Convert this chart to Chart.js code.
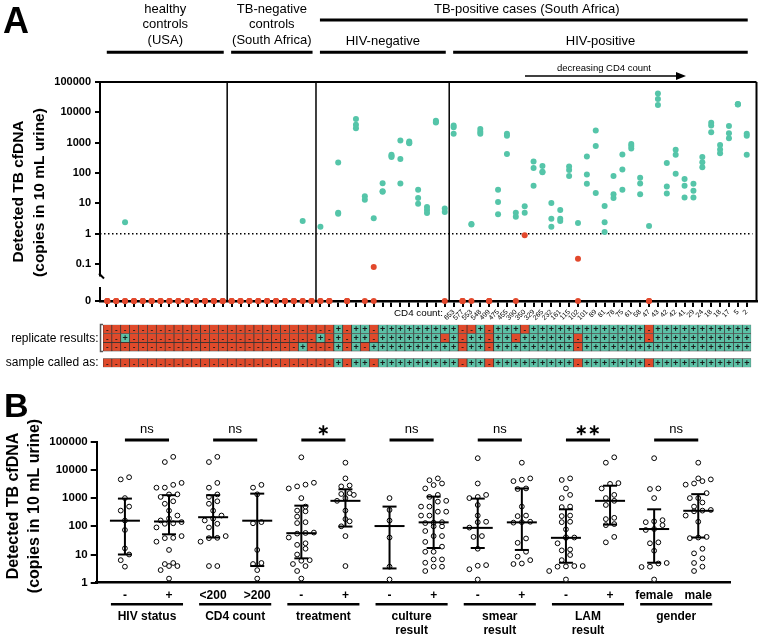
<!DOCTYPE html>
<html>
<head>
<meta charset="utf-8">
<script src="https://cdn.jsdelivr.net/npm/chart.js@4.4.1/dist/chart.umd.min.js"></script>
<style>
  body { margin: 0; background: #fff; width: 760px; height: 635px; position: relative; overflow: hidden; }
  canvas { position: absolute; left: 0; }
</style>
</head>
<body>
<canvas id="chartA" width="760" height="330" style="top:0"></canvas>
<canvas id="chartGrid" width="760" height="48" style="top:322px"></canvas>
<canvas id="chartB" width="760" height="265" style="top:370px"></canvas>
<script>
// ---------- panel A data (3 replicates per sample, 0 = not detected) ----------
const healthyReps = [[0,0,0],[0,0,0],[0,2.4,0],[0,0,0],[0,0,0],[0,0,0],[0,0,0],
  [0,0,0],[0,0,0],[0,0,0],[0,0,0],[0,0,0],[0,0,0],[0,0,0]];
const tbNegReps = [[0,0,0],[0,0,0],[0,0,0],[0,0,0],[0,0,0],[0,0,0],[0,0,0],
  [0,0,0],[0,0,2.6],[0,0,0]];
const hivNegReps = [[0,1.7,0],[0,0,0],[220,4.9,4.5],[0,0,0],[6000,3900,3000],
  [17,13,0],[0.08,0,3.2],[46,25,24],[400,360,340],[1170,290,45],[1100,1000,960],
  [28,15,9.6],[7.6,6,4.8],[5300,4900,4600],[6.7,0,5.2]];
const hivPosReps = [[3700,3200,1950],[0,0,0],[0,2.1,2.0],[2800,2300,1950],[0,0,0],
  [28,11,4.4],[1950,1700,420],[4.9,0,3.6],[0.89,8,4.9],[240,145,38],[170,110,105],
  [10.3,3.1,1.7],[6,3.1,2.6],[165,125,80],[2.25,0.15,0],[350,89,44],[2500,780,22],
  [8.2,2.4,1.14],[80,20,15],[405,130,28],[910,770,640],[70,45,20],[0,0,1.8],
  [42000,27500,17300],[215,36,21],[580,400,95],[64,38,15.5],[44,26,15.5],
  [340,228,155],[4500,3650,2220],[830,600,450],[3560,2060,1410],[19000,18500,18000],
  [1950,1700,400]];
const cd4Counts = [653,577,553,548,499,475,455,390,350,329,265,232,161,115,102,101,
  89,81,78,75,61,58,47,43,42,42,41,29,24,18,18,17,5,2];
const yTicksA = [0, 0.1, 1, 10, 100, 1000, 10000, 100000];
const groupTitlesA = [['healthy','controls','(USA)'], ['TB-negative','controls','(South Africa)'],
  ['HIV-negative'], ['HIV-positive']];

// ---------- panel B data (detected copies per positive sample) ----------
const bTickLabels = ['-','+','<200','>200','-','+','-','+','-','+','-','+','female','male'];
const bGroupNames = ['HIV status','CD4 count','treatment','culture\nresult','smear\nresult','LAM\nresult','gender'];
const bStars = ['ns','ns','*','ns','ns','**','ns'];
const hivNeg = [5500,4600,1000,500,360,160,74,16.5,10,6.3,3.7];
const hivPos = [2950,1.4,2350,14.5,1360,2.8,4.6,141,128,5.0,3.9,123,161,1100,3.9,38,188,
  773,45,29000,91,358,39,28.5,241,3460,630,2340,19000,1350];
const cd4Low = [3.9,123,161,1100,3.9,38,188,773,45,29000,91,358,39,28.5,241,3460,630,2340,19000,1350];
const cd4High = [2950,1.4,2350,14.5,1360,2.8,4.6,141,128,5.0];
const treatNeg = [28000,3500,3000,2600,2200,1000,500,360,340,220,140,130,60,58,55,40,25,22,16,10,6.3,6.0,4.6,3.9,2.6,1.4];
const treatPos = [18000,5000,2800,2600,1500,1400,1300,1000,800,360,180,150,100,45,3.9];
const cultureNeg = [1000,380,160,40,3.7,1.3];
const culturePos = [5000,4300,3300,2900,2200,1300,1100,800,750,500,500,330,330,240,240,140,135,130,
  100,100,68,45,45,28,19,12.5,12.5,6.7,6.7,5.1,3.7,3.7,2.6];
const smearNeg = [26000,3300,1300,1100,1000,570,240,145,140,90,45,42,16,4.2,4.0,3.0,1.3];
const smearPos = [18000,5000,4500,4000,2200,2100,500,240,230,145,140,135,37,26,12.5,8.4,6.3,4.8,4.6];
const lamNeg = [5000,4400,2200,1300,1000,500,480,240,230,145,140,78,41,40,39,25,15,14,9.6,6.3,3.9,3.9,3.8,3.7,2.6,1.3];
const lamPos = [28000,18000,3400,3200,2200,1300,1000,800,570,200,180,120,110,42,27];
const female = [26000,2200,2100,1000,165,150,140,110,80,74,27,25,13.6,5,4.8,3.7,3.6,1.3];
const male = [18000,5000,4600,4000,3300,3000,1500,1000,1000,700,500,380,360,340,240,145,42,40,38,16,11,7.3,5,3.7,2.6];
const bMedian = [158,148,210,158,57,800,102,138,88,138,39,800,80,355];
const bQ1 = [10,52,40,3.9,7.3,98,3.2,17,17,14.5,5.1,115,5.1,40];
const bQ3 = [960,1270,1270,1440,540,2050,500,1130,960,2200,400,2750,400,1380];
const bGroups = [hivNeg,hivPos,cd4Low,cd4High,treatNeg,treatPos,cultureNeg,culturePos,
  smearNeg,smearPos,lamNeg,lamPos,female,male];

// ---------- shared ----------
Chart.defaults.font.family = "'Liberation Sans', Arial, sans-serif";
Chart.defaults.color = '#000';
const TEAL = '#55c5a9', RED = '#e2482c';
const GRID_TEAL = '#5cc1a6', GRID_RED = '#df4a2b';
const ZERO_POS = -2.22;
const tr = v => v > 0 ? Math.log10(v) : ZERO_POS;

const allReps = [...healthyReps, ...tbNegReps, ...hivNegReps, ...hivPosReps];
const groupSizes = [healthyReps.length, tbNegReps.length, hivNegReps.length, hivPosReps.length];
const groupStarts = groupSizes.map((n, i) => groupSizes.slice(0, i).reduce((a, b) => a + b, 0));
const firstPos = groupStarts[3];
const scatterData = allReps.flatMap((reps, k) => reps.map(v => ({ x: k, y: tr(v), v: v })));

function seg(ctx, x1, y1, x2, y2) {
  ctx.beginPath(); ctx.moveTo(x1, y1); ctx.lineTo(x2, y2); ctx.stroke();
}
function font(size, bold) {
  return (bold ? 'bold ' : '') + size + "px 'Liberation Sans', Arial, sans-serif";
}
function vText(ctx, str, x, y, size) {
  ctx.save(); ctx.translate(x, y); ctx.rotate(-Math.PI / 2);
  ctx.font = font(size, true); ctx.textAlign = 'center'; ctx.textBaseline = 'middle';
  ctx.fillText(str, 0, 0); ctx.restore();
}

// ---------- panel A ----------
const panelA = {
  id: 'panelA',
  beforeDatasetsDraw(chart) {
    const { ctx, chartArea: a, scales: { x, y } } = chart;
    ctx.save();
    ctx.strokeStyle = '#000';
    // dotted line at 1 copy
    ctx.lineWidth = 1.5; ctx.setLineDash([1.5, 2.5]);
    seg(ctx, a.left, y.getPixelForValue(0), a.right - 4, y.getPixelForValue(0));
    ctx.setLineDash([]);
    // group dividers
    groupStarts.slice(1).forEach(s => {
      const px = x.getPixelForValue(s - 0.5);
      seg(ctx, px, a.top, px, a.bottom);
    });
    // frame
    ctx.lineWidth = 2;
    seg(ctx, a.left - 1, a.top, a.right, a.top);
    seg(ctx, a.right, a.top, a.right, a.bottom);
    // broken y axis
    const yb1 = y.getPixelForValue(-1) + 12.5, yb2 = y.getPixelForValue(ZERO_POS) - 14;
    seg(ctx, a.left, a.top - 1, a.left, yb1);
    seg(ctx, a.left - 1, yb1 - 3, a.left + 4, yb1 + 2);
    seg(ctx, a.left, yb2, a.left, a.bottom + 1);
    ctx.restore();
  },
  afterDraw(chart) {
    const { ctx, scales: { x } } = chart;
    ctx.save();
    ctx.fillStyle = '#000'; ctx.strokeStyle = '#000';
    ctx.font = font(36, true); ctx.textAlign = 'left'; ctx.textBaseline = 'alphabetic';
    ctx.fillText('A', 3, 33);
    ctx.textAlign = 'center'; ctx.textBaseline = 'middle';
    ctx.font = font(13, false);
    groupTitlesA.forEach((lines, g) => {
      const f = groupStarts[g], l = f + groupSizes[g] - 1;
      const x1 = x.getPixelForValue(f) - 0.5, x2 = x.getPixelForValue(l) + 1;
      ctx.lineWidth = 3; seg(ctx, x1, 52.3, x2, 52.3);
      const ys = lines.length === 3 ? [9.3, 24.5, 40.7] : [41.7];
      lines.forEach((t, i) => ctx.fillText(t, (x1 + x2) / 2, ys[i]));
    });
    // TB-positive cases bracket
    const t1 = x.getPixelForValue(groupStarts[2]) - 0.5, t2 = x.getPixelForValue(allReps.length - 1) + 1;
    ctx.lineWidth = 3; seg(ctx, t1, 20, t2, 20);
    ctx.fillText('TB-positive cases (South Africa)', (t1 + t2) / 2 - 7, 9.5);
    // decreasing CD4 arrow
    ctx.font = font(9.5, false);
    ctx.fillText('decreasing CD4 count', 604, 68);
    ctx.lineWidth = 1.5; seg(ctx, 525, 76, 678, 76);
    ctx.beginPath(); ctx.moveTo(686, 76); ctx.lineTo(676, 72); ctx.lineTo(676, 80); ctx.closePath(); ctx.fill();
    // CD4 count label
    ctx.font = font(9.8, false); ctx.textAlign = 'right';
    ctx.fillText('CD4 count:', 443, 313);
    // y title
    vText(ctx, 'Detected TB cfDNA', 18.5, 191.5, 15.5);
    vText(ctx, '(copies in 10 mL urine)', 39.5, 192.5, 15.5);
    ctx.restore();
  }
};

new Chart(document.getElementById('chartA'), {
  type: 'scatter',
  data: {
    datasets: [{
      data: scatterData,
      pointRadius: 3, pointHoverRadius: 3, borderWidth: 0,
      backgroundColor: c => (c.raw && c.raw.v >= 1) ? TEAL : RED,
      clip: false
    }]
  },
  options: {
    responsive: false, animation: false,
    layout: { padding: { top: 82, right: 3.5, left: 0, bottom: 0 } },
    plugins: { legend: { display: false }, tooltip: { enabled: false } },
    scales: {
      x: {
        type: 'linear', min: -0.82, max: 73.1,
        afterBuildTicks: s => { s.ticks = allReps.map((r, k) => ({ value: k })); },
        afterFit: s => { s.height = 29; },
        grid: { drawOnChartArea: false, drawTicks: true, tickLength: 6, color: '#000', lineWidth: 2 },
        border: { display: true, color: '#000', width: 2.5 },
        ticks: {
          autoSkip: false, minRotation: 45, maxRotation: 45, padding: 1,
          font: { size: 7 },
          callback: (v, i) => i >= firstPos ? String(cd4Counts[i - firstPos]) : ''
        }
      },
      y: {
        type: 'linear', min: ZERO_POS, max: 5,
        afterBuildTicks: s => { s.ticks = yTicksA.map(v => ({ value: tr(v) })); },
        afterFit: s => { s.width = 100; },
        grid: { drawOnChartArea: false, tickLength: 5, color: '#000', lineWidth: 2 },
        border: { display: false },
        ticks: { padding: 4, font: { size: 11, weight: 'bold' }, callback: (v, i) => String(yTicksA[i]) }
      }
    }
  },
  plugins: [panelA]
});

// ---------- replicate grid ----------
const rowBands = [[3.83, 4.83], [2.83, 3.83], [1.83, 2.83]];
const gridSets = rowBands.map((band, r) => ({
  data: allReps.map((reps, k) => ({ x: k, y: band, pos: reps[r] >= 1 }))
}));
gridSets.push({
  data: allReps.map((reps, k) => ({ x: k, y: [0, 1], pos: reps.filter(v => v >= 1).length >= 2 }))
});

const gridText = {
  id: 'gridText',
  afterDatasetsDraw(chart) {
    const { ctx } = chart;
    ctx.save();
    ctx.fillStyle = '#1a1a1a'; ctx.textAlign = 'center'; ctx.textBaseline = 'middle';
    chart.data.datasets.forEach((ds, di) => {
      chart.getDatasetMeta(di).data.forEach((el, i) => {
        const plus = ds.data[i].pos;
        ctx.font = font(plus ? 9 : 8, true);
        ctx.fillText(plus ? '+' : '-', el.x, (el.y + el.base) / 2 + 0.5);
      });
    });
    ctx.fillStyle = '#000'; ctx.textAlign = 'right'; ctx.font = font(12, false);
    ctx.fillText('replicate results:', 98.5, 16.5);
    ctx.fillText('sample called as:', 98.5, 40.5);
    ctx.strokeStyle = '#555'; ctx.lineWidth = 1.5;
    ctx.beginPath(); ctx.moveTo(103, 2.5); ctx.lineTo(100.5, 2.5); ctx.lineTo(100.5, 29.5); ctx.lineTo(103, 29.5); ctx.stroke();
    ctx.restore();
  }
};

new Chart(document.getElementById('chartGrid'), {
  type: 'bar',
  data: {
    datasets: gridSets.map(s => ({
      data: s.data, grouped: false,
      barPercentage: 1, categoryPercentage: 1,
      backgroundColor: c => (c.raw && c.raw.pos) ? GRID_TEAL : GRID_RED,
      borderColor: '#333', borderWidth: 0.7, borderSkipped: false
    }))
  },
  options: {
    responsive: false, animation: false,
    layout: { padding: { left: 103, right: 8.8, top: 2.7, bottom: 2.7 } },
    plugins: { legend: { display: false }, tooltip: { enabled: false } },
    scales: {
      x: { type: 'linear', min: -0.5, max: 72.5, offset: false, display: false },
      y: { type: 'linear', min: 0, max: 4.83, display: false }
    }
  },
  plugins: [gridText]
});

// ---------- panel B ----------
const PX_PER_DECADE_B = 28.2, ROW_GAP_PX = 6, SWARM_STEP = 0.19;
function swarm(values) {
  const rows = [];
  values.slice().sort((a, b) => a - b).forEach(v => {
    const l = Math.log10(v), row = rows[rows.length - 1];
    if (row && (l - row.l0) * PX_PER_DECADE_B < ROW_GAP_PX) row.vals.push(v);
    else rows.push({ l0: l, vals: [v] });
  });
  return rows.flatMap(r => r.vals.map((v, j) => ({ v: v, dx: (j - (r.vals.length - 1) / 2) * SWARM_STEP })));
}
const bData = bGroups.flatMap((vals, i) => swarm(vals).map(p => ({ x: i + p.dx, y: p.v })));

const panelB = {
  id: 'panelB',
  afterDatasetsDraw(chart) {
    const { ctx, scales: { x, y } } = chart;
    ctx.save();
    ctx.strokeStyle = '#000'; ctx.fillStyle = '#000'; ctx.lineWidth = 2;
    bMedian.forEach((m, i) => {
      const cx = x.getPixelForValue(i);
      const y1 = y.getPixelForValue(bQ1[i]), y3 = y.getPixelForValue(bQ3[i]), ym = y.getPixelForValue(m);
      seg(ctx, cx, y1, cx, y3);
      seg(ctx, cx - 7, y1, cx + 7, y1);
      seg(ctx, cx - 7, y3, cx + 7, y3);
      seg(ctx, cx - 15, ym, cx + 15, ym);
    });
    ctx.textAlign = 'center'; ctx.textBaseline = 'middle';
    bStars.forEach((s, p) => {
      const x1 = x.getPixelForValue(2 * p), x2 = x.getPixelForValue(2 * p + 1);
      ctx.lineWidth = 3; seg(ctx, x1, 70, x2, 70);
      if (s === 'ns') { ctx.font = font(13, false); ctx.fillText(s, (x1 + x2) / 2, 59); }
      else { ctx.font = font(15, true); ctx.fillText(s.replace(/\*/g, '\u2217'), (x1 + x2) / 2, 61); }
      ctx.lineWidth = 2.5; seg(ctx, x1 - 14, 234.3, x2 + 14, 234.3);
      ctx.font = font(12, true);
      bGroupNames[p].split('\n').forEach((t, li) => ctx.fillText(t, (x1 + x2) / 2, 246.5 + li * 14));
    });
    ctx.textAlign = 'left'; ctx.textBaseline = 'alphabetic';
    ctx.font = font(34, true); ctx.fillText('B', 4, 47);
    vText(ctx, 'Detected TB cfDNA', 14, 136, 16);
    vText(ctx, '(copies in 10 mL urine)', 35, 136, 16);
    ctx.restore();
  }
};

new Chart(document.getElementById('chartB'), {
  type: 'scatter',
  data: {
    datasets: [{
      data: bData, pointRadius: 2.4, pointHoverRadius: 2.4,
      borderColor: '#000', borderWidth: 1, backgroundColor: '#fff', clip: false
    }]
  },
  options: {
    responsive: false, animation: false,
    layout: { padding: { top: 71.7, right: 30, left: 0, bottom: 0 } },
    plugins: { legend: { display: false }, tooltip: { enabled: false } },
    scales: {
      x: {
        type: 'linear', min: -0.64, max: 13.72,
        afterBuildTicks: s => { s.ticks = bTickLabels.map((l, i) => ({ value: i })); },
        afterFit: s => { s.height = 52.3; },
        grid: { drawOnChartArea: false, drawTicks: false },
        border: { display: true, color: '#000', width: 2.5 },
        ticks: { autoSkip: false, maxRotation: 0, padding: 6, font: { size: 12, weight: 'bold' },
          callback: (v, i) => bTickLabels[i] }
      },
      y: {
        type: 'logarithmic', min: 1, max: 100000,
        afterBuildTicks: s => { s.ticks = [1, 10, 100, 1000, 10000, 100000].map(v => ({ value: v })); },
        afterFit: s => { s.width = 96.7; },
        grid: { drawOnChartArea: false, tickLength: 6, color: '#000', lineWidth: 2 },
        border: { display: true, color: '#000', width: 2 },
        ticks: { padding: 3, font: { size: 11.5, weight: 'bold' }, callback: v => String(v) }
      }
    }
  },
  plugins: [panelB]
});
</script>
</body>
</html>
